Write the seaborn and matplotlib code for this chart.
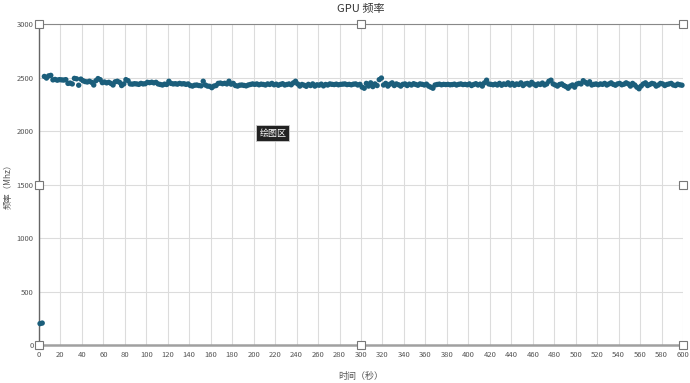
import numpy as np
import pandas as pd
import matplotlib
matplotlib.use("Agg")
import matplotlib.pyplot as plt
import seaborn as sns

# sample times (s), one point every 2 seconds
seconds = list(range(1, 600, 2))

# GPU frequency (Mhz), 10 values per 20 s
freq_mhz = [
    200, 205, 2510, 2495, 2515, 2520, 2478, 2482, 2475, 2480,
    2478, 2476, 2480, 2445, 2448, 2440, 2492, 2488, 2428, 2485,
    2470, 2462, 2458, 2465, 2455, 2430, 2470, 2490, 2480, 2452,
    2458, 2450, 2455, 2445, 2430, 2460, 2465, 2455, 2425, 2440,
    2480, 2470, 2440, 2438, 2442, 2440, 2436, 2445, 2440, 2442,
    2455, 2452, 2456, 2450, 2455, 2440, 2435, 2430, 2438, 2435,
    2465, 2445, 2440, 2442, 2438, 2445, 2440, 2442, 2436, 2440,
    2425, 2420, 2428, 2430, 2425, 2422, 2465, 2430, 2420, 2418,
    2405, 2420, 2425, 2445, 2448, 2442, 2446, 2440, 2465, 2438,
    2445, 2425, 2420, 2428, 2430, 2426, 2422, 2430, 2435, 2440,
    2436, 2440, 2432, 2438, 2435, 2430, 2440, 2435, 2445, 2432,
    2438, 2428, 2436, 2442, 2430, 2435, 2440, 2432, 2450, 2465,
    2440, 2420, 2435, 2428, 2418, 2436, 2425, 2440, 2420, 2432,
    2428, 2438, 2422, 2435, 2430, 2440, 2436, 2434, 2438, 2432,
    2436, 2438, 2440, 2434, 2436, 2432, 2438, 2440, 2430, 2436,
    2410, 2400, 2445, 2420, 2450, 2415, 2440, 2425, 2480, 2495,
    2430, 2445, 2420, 2438, 2450, 2425, 2440, 2432, 2420, 2436,
    2440, 2425, 2438, 2430, 2442, 2435, 2428, 2440, 2436, 2430,
    2438, 2420, 2410, 2400, 2430, 2435, 2438, 2432, 2436, 2434,
    2436, 2432, 2434, 2438, 2430, 2436, 2440, 2434, 2436, 2432,
    2440, 2425, 2435, 2442, 2430, 2438, 2420, 2450, 2475, 2440,
    2436, 2432, 2438, 2430, 2445, 2428, 2440, 2435, 2450, 2430,
    2445, 2428, 2440, 2435, 2450, 2425, 2440, 2445, 2430, 2455,
    2438, 2425, 2440, 2435, 2448, 2430, 2440, 2465, 2475, 2440,
    2430, 2420, 2435, 2440, 2425, 2415, 2400, 2420, 2430, 2410,
    2438, 2445, 2440, 2470, 2455, 2440, 2460, 2430, 2436, 2440,
    2432, 2440, 2436, 2445, 2430, 2440, 2450, 2436, 2428, 2440,
    2445, 2432, 2438, 2450, 2440, 2420, 2445, 2430, 2410, 2395,
    2420, 2440, 2450, 2425, 2435, 2445, 2440, 2420, 2430, 2445,
    2440, 2425, 2435, 2440, 2445, 2430, 2425, 2438, 2432, 2428,
]

x_ticks = list(range(0, 601, 20))
y_ticks = list(range(0, 3001, 500))

df = pd.DataFrame({"time": seconds, "freq": freq_mhz})

sns.set_style("white")
plt.rcParams['font.family'] = ['Noto Sans CJK SC', 'DejaVu Sans']

fig = plt.figure(figsize=(6.9, 3.83), dpi=100)
ax = fig.add_axes([0.0565, 0.0992, 0.9334, 0.8381])

sns.scatterplot(data=df, x="time", y="freq", ax=ax, s=15, color="#1b5e7b",
                edgecolor="none", zorder=3, clip_on=False)

ax.set_xlim(0, 600)
ax.set_ylim(0, 3000)
ax.set_xticks(x_ticks)
ax.set_yticks(y_ticks)
ax.grid(True, color="#dcdcdc", linewidth=0.8)
ax.set_axisbelow(True)
ax.tick_params(length=0, labelsize=5.5, labelcolor="#555555", pad=4)

for side in ["top", "right"]:
    ax.spines[side].set_visible(False)
ax.spines["left"].set_color("#666666")
ax.spines["left"].set_linewidth(1.0)
ax.spines["bottom"].set_color("#a0a0a0")
ax.spines["bottom"].set_linewidth(1.8)
# top border of plot area
ax.axhline(3000, color="#888888", linewidth=0.8, clip_on=False)

ax.set_title("GPU 频率", fontsize=8, color="#333333", pad=9)
ax.set_xlabel("时间（秒）", fontsize=6.5, color="#555555", labelpad=10)
ax.set_ylabel("频率（Mhz）", fontsize=6, color="#555555")
ax.yaxis.set_label_coords(-0.041, 0.5)

# selection handles of the plot area
hx = [0, 0.5, 1, 0, 1, 0, 0.5, 1]
hy = [1, 1, 1, 0.5, 0.5, 0, 0, 0]
ax.plot(hx, hy, linestyle="none", marker="s", markersize=5.5,
        markerfacecolor="white", markeredgecolor="#777777", markeredgewidth=0.8,
        transform=ax.transAxes, clip_on=False, zorder=5)

# tooltip
ax.text(0.363, 0.66, "绘图区", transform=ax.transAxes, fontsize=6.5,
        color="white", ha="center", va="center", zorder=6,
        bbox=dict(boxstyle="square,pad=0.35", facecolor="#222222", edgecolor="#cccccc",
                  linewidth=0.6))

fig.savefig("out.png", dpi=100)
